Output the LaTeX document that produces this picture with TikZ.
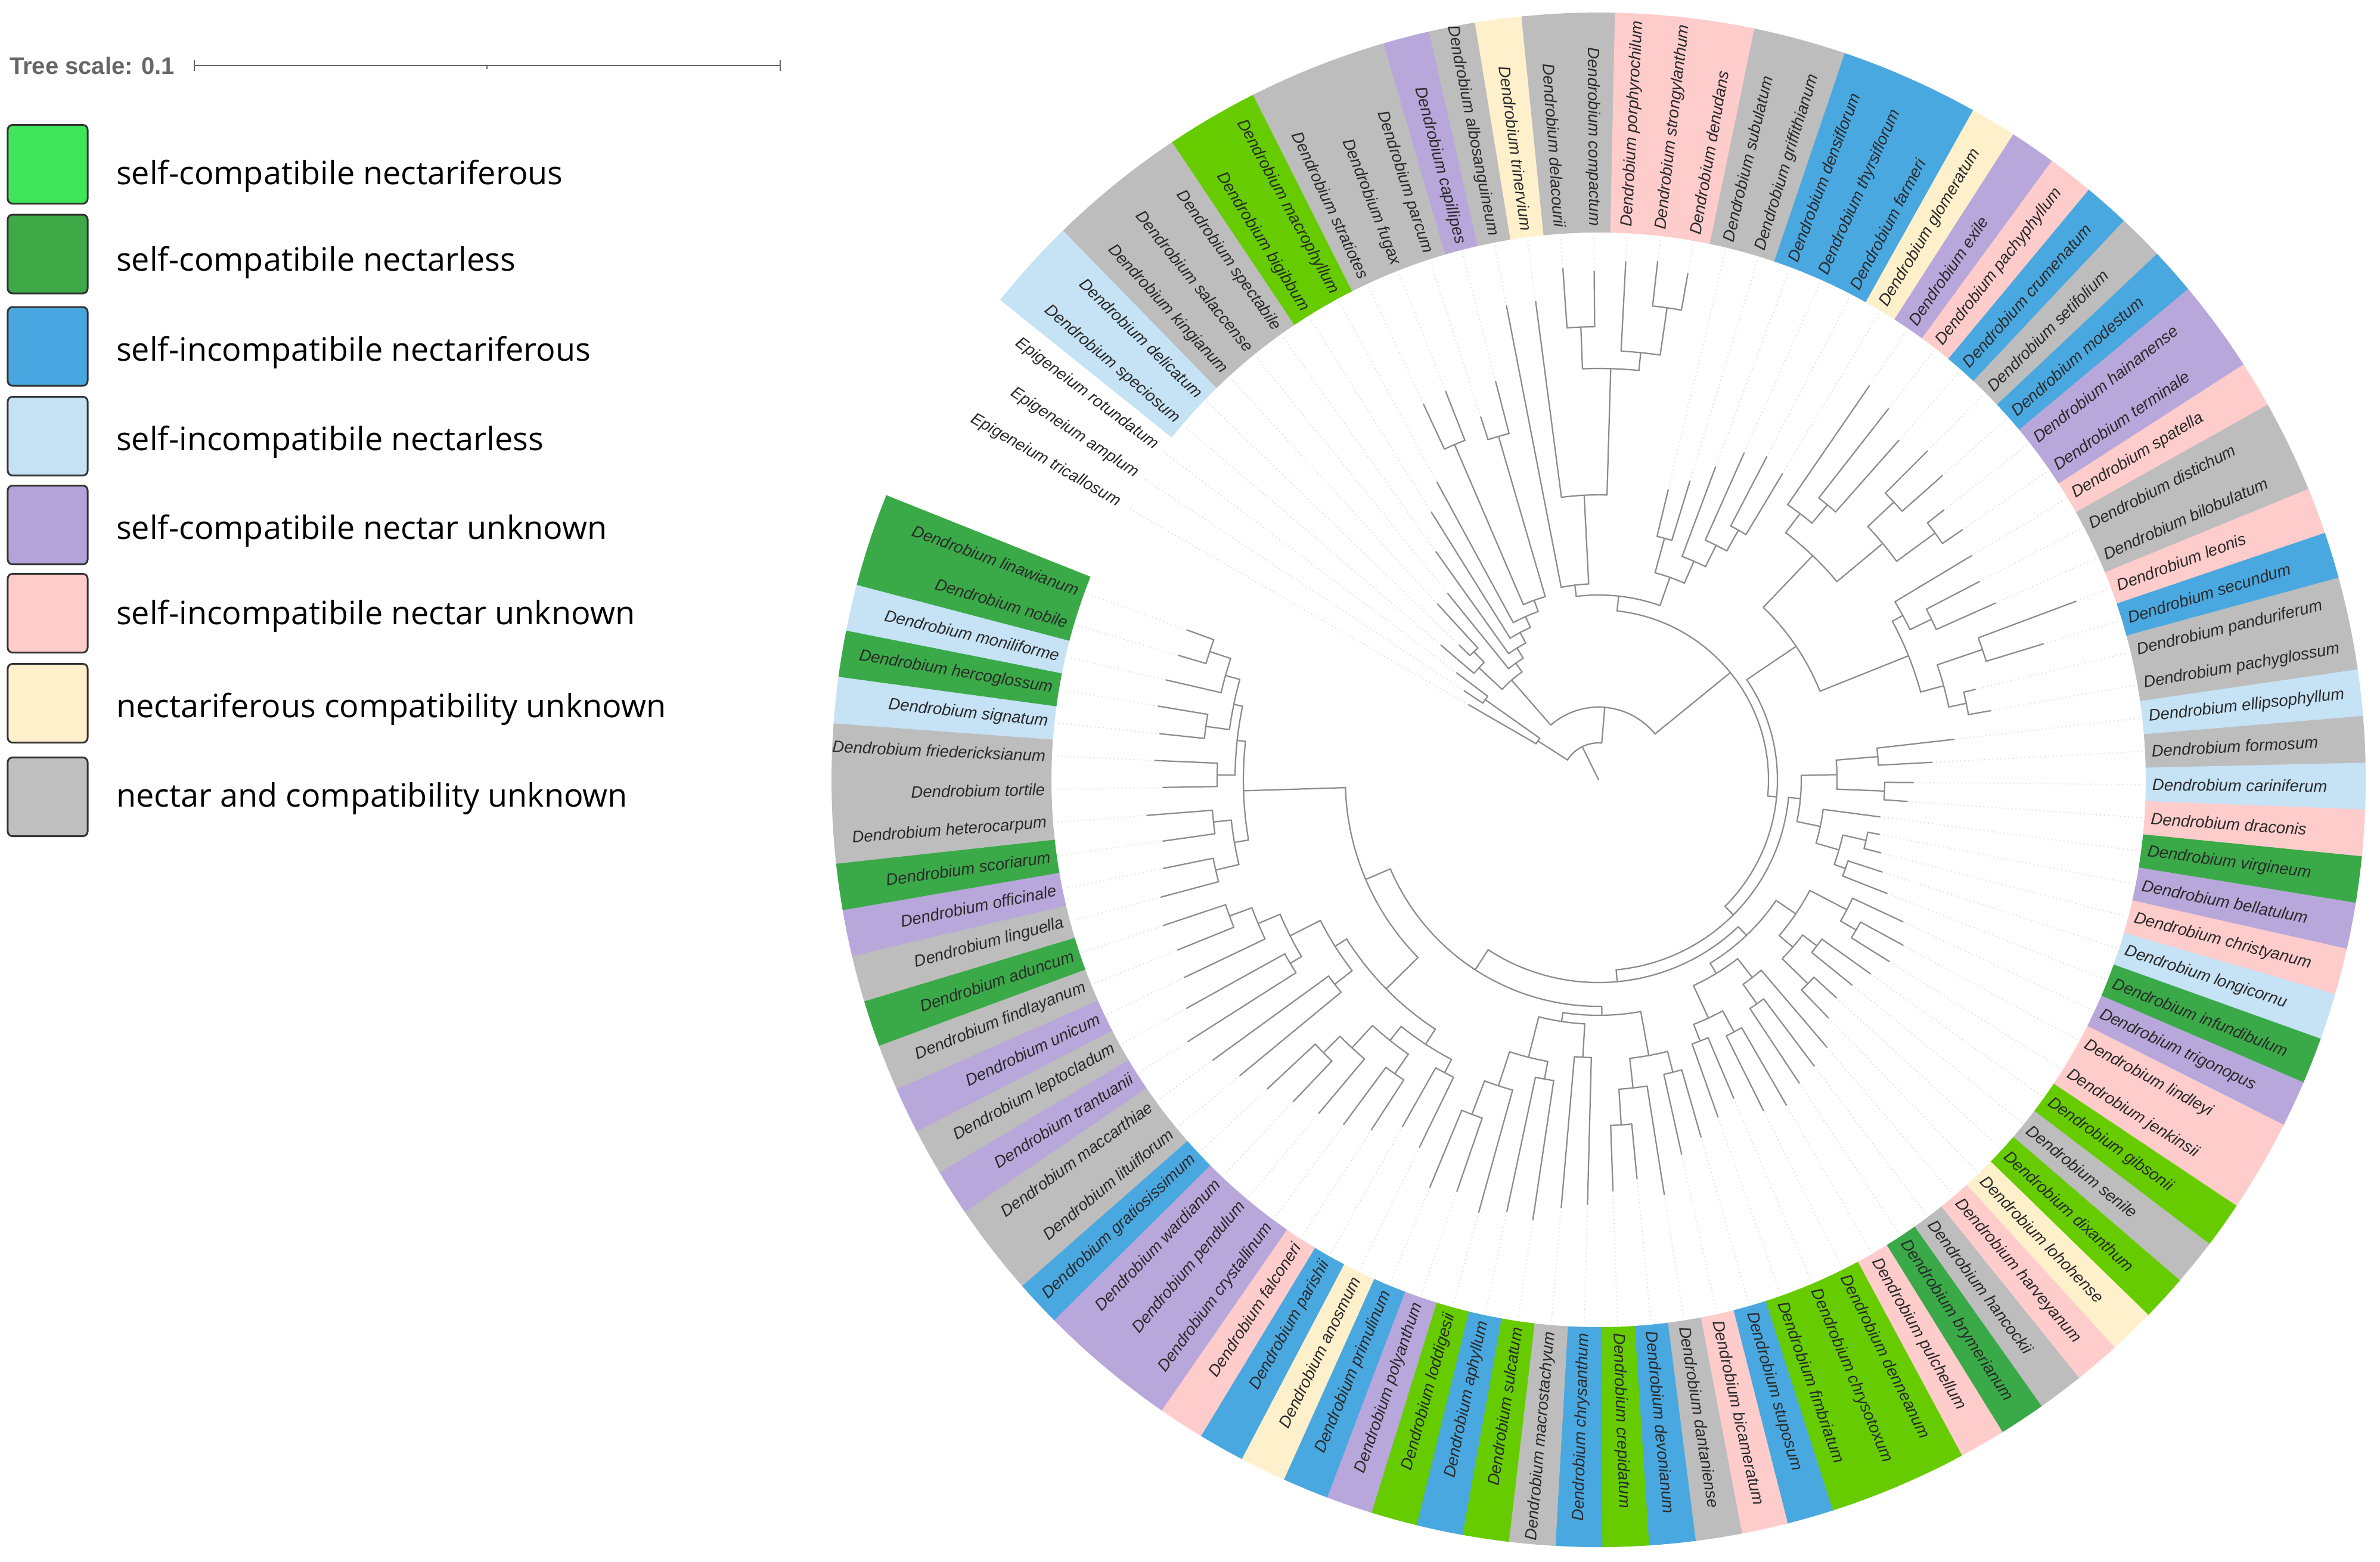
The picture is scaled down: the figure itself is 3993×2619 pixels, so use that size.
\documentclass[tikz,border=0pt]{standalone}
\usepackage{fontspec}
\setmainfont{Liberation Sans}
\newfontfamily\labfont{Liberation Sans}
\newfontfamily\legfont{Open Sans}
\definecolor{cL}{HTML}{66CC00}
\definecolor{cDG}{HTML}{3AAA48}
\definecolor{cB}{HTML}{4AA8E0}
\definecolor{cLB}{HTML}{C6E2F5}
\definecolor{cP}{HTML}{B8A7DA}
\definecolor{cK}{HTML}{FFCCCC}
\definecolor{cY}{HTML}{FFF0CC}
\definecolor{cG}{HTML}{BDBDBD}
\definecolor{lg1}{HTML}{3FE65A}
\definecolor{lg2}{HTML}{3DA947}
\definecolor{lg3}{HTML}{48A7E0}
\definecolor{lg4}{HTML}{C5E1F4}
\definecolor{lg5}{HTML}{B4A3D8}
\definecolor{lg6}{HTML}{FFCCCC}
\definecolor{lg7}{HTML}{FFF0CC}
\definecolor{lg8}{HTML}{BFBFBF}
\definecolor{treegray}{HTML}{8C8C8C}
\definecolor{guidegray}{HTML}{DDDDDD}
\definecolor{labtext}{HTML}{2A2A2A}
\definecolor{legborder}{HTML}{333333}
\definecolor{scalegray}{HTML}{666666}
\tikzset{
  branch/.style={draw=treegray, line width=0.45pt, line cap=round, line join=round},
  guide/.style={draw=guidegray, line width=0.35pt, densely dotted},
  lab/.style={font=\labfont\itshape\fontsize{5.5}{6}\selectfont, text=labtext, inner sep=0pt},
  legbox/.style={draw=legborder, line width=0.6pt, rounded corners=1.6pt, minimum width=26.8pt, minimum height=26.4pt, inner sep=0pt},
  legtext/.style={font=\legfont\fontsize{10.8}{13}\selectfont, text=black, anchor=base west, inner sep=0pt},
  scalebar/.style={draw=scalegray, line width=0.5pt},
}
\newcommand\trleaf[3]{%
  \pgfmathsetmacro\tmpang{150-3.5*(#2-1)}%
  \expandafter\xdef\csname ta@#1\endcsname{\tmpang}%
  \coordinate (n-#1) at (\tmpang:#3);%
  \coordinate (d-#1) at (\tmpang:914);%
  \draw[guide] (n-#1) -- (d-#1);%
}
\newcommand\trnode[4]{%
  \edef\trA{\csname ta@#3\endcsname}%
  \edef\trB{\csname ta@#4\endcsname}%
  \pgfmathsetmacro\tmpang{(\trA+\trB)/2}%
  \expandafter\xdef\csname ta@#1\endcsname{\tmpang}%
  \coordinate (n-#1) at (\tmpang:#2);%
  \coordinate (e-#3) at (\trA:#2);%
  \coordinate (e-#4) at (\trB:#2);%
  \draw[branch] (e-#3) -- (n-#3);%
  \draw[branch] (e-#4) -- (n-#4);%
  \draw[branch] (e-#3) arc[start angle=\trA, end angle=\trB, radius=#2];%
}
\begin{document}
\begin{tikzpicture}[x=0.2pt,y=0.2pt]
\fill[white] (0,0) rectangle (3993,-2619);
\useasboundingbox (0,0) rectangle (3993,-2619);
% ---------- scale ----------
\node[font=\bfseries\fontsize{8}{9}\selectfont, text=scalegray, anchor=base west, inner sep=0pt] (ts) at (15,-124) {Tree scale: 0.1};
\coordinate (sb1) at (326,-110);
\coordinate (sb2) at (1309,-110);
\coordinate (sbm) at (817,-110);
\draw[scalebar] (sb1) -- (sb2);
\draw[scalebar] (sb1) ++(0,9) -- ++(0,-18);
\draw[scalebar] (sb2) ++(0,9) -- ++(0,-18);
\draw[scalebar] (sbm) -- ++(0,-6);
% ---------- legend ----------
\foreach \k/\yc/\yb/\c/\t in {
 1/275.5/309/lg1/self-compatibile nectariferous,
 2/426/454/lg2/self-compatibile nectarless,
 3/581/605/lg3/self-incompatibile nectariferous,
 4/731.5/755/lg4/self-incompatibile nectarless,
 5/880.5/904/lg5/self-compatibile nectar unknown,
 6/1028.5/1047/lg6/self-incompatibile nectar unknown,
 7/1179.5/1203/lg7/nectariferous compatibility unknown,
 8/1336.5/1353/lg8/nectar and compatibility unknown}{
  \node[legbox, fill=\c] (sw\k) at (80,-\yc) {};
  \node[legtext] (lt\k) at (194,-\yb) {\t};
}
% ---------- circular tree ----------
\begin{scope}[shift={(2682,-1308)}]
\def\nonestr{none}
\foreach \i/\gen/\sp/\col in {
1/Epigeneium/tricallosum/none,
2/Epigeneium/amplum/none,
3/Epigeneium/rotundatum/none,
4/Dendrobium/speciosum/cLB,
5/Dendrobium/delicatum/cLB,
6/Dendrobium/kingianum/cG,
7/Dendrobium/salaccense/cG,
8/Dendrobium/spectabile/cG,
9/Dendrobium/bigibbum/cL,
10/Dendrobium/macrophyllum/cL,
11/Dendrobium/stratiotes/cG,
12/Dendrobium/fugax/cG,
13/Dendrobium/parcum/cG,
14/Dendrobium/capillipes/cP,
15/Dendrobium/albosanguineum/cG,
16/Dendrobium/trinervium/cY,
17/Dendrobium/delacourii/cG,
18/Dendrobium/compactum/cG,
19/Dendrobium/porphyrochilum/cK,
20/Dendrobium/strongylanthum/cK,
21/Dendrobium/denudans/cK,
22/Dendrobium/subulatum/cG,
23/Dendrobium/griffithianum/cG,
24/Dendrobium/densiflorum/cB,
25/Dendrobium/thyrsiflorum/cB,
26/Dendrobium/farmeri/cB,
27/Dendrobium/glomeratum/cY,
28/Dendrobium/exile/cP,
29/Dendrobium/pachyphyllum/cK,
30/Dendrobium/crumenatum/cB,
31/Dendrobium/setifolium/cG,
32/Dendrobium/modestum/cB,
33/Dendrobium/hainanense/cP,
34/Dendrobium/terminale/cP,
35/Dendrobium/spatella/cK,
36/Dendrobium/distichum/cG,
37/Dendrobium/bilobulatum/cG,
38/Dendrobium/leonis/cK,
39/Dendrobium/secundum/cB,
40/Dendrobium/panduriferum/cG,
41/Dendrobium/pachyglossum/cG,
42/Dendrobium/ellipsophyllum/cLB,
43/Dendrobium/formosum/cG,
44/Dendrobium/cariniferum/cLB,
45/Dendrobium/draconis/cK,
46/Dendrobium/virgineum/cDG,
47/Dendrobium/bellatulum/cP,
48/Dendrobium/christyanum/cK,
49/Dendrobium/longicornu/cLB,
50/Dendrobium/infundibulum/cDG,
51/Dendrobium/trigonopus/cP,
52/Dendrobium/lindleyi/cK,
53/Dendrobium/jenkinsii/cK,
54/Dendrobium/gibsonii/cL,
55/Dendrobium/senile/cG,
56/Dendrobium/dixanthum/cL,
57/Dendrobium/lohohense/cY,
58/Dendrobium/harveyanum/cK,
59/Dendrobium/hancockii/cG,
60/Dendrobium/brymerianum/cDG,
61/Dendrobium/pulchellum/cK,
62/Dendrobium/denneanum/cL,
63/Dendrobium/chrysotoxum/cL,
64/Dendrobium/fimbriatum/cL,
65/Dendrobium/stuposum/cB,
66/Dendrobium/bicameratum/cK,
67/Dendrobium/dantaniense/cG,
68/Dendrobium/devonianum/cB,
69/Dendrobium/crepidatum/cL,
70/Dendrobium/chrysanthum/cB,
71/Dendrobium/macrostachyum/cG,
72/Dendrobium/sulcatum/cL,
73/Dendrobium/aphyllum/cB,
74/Dendrobium/loddigesii/cL,
75/Dendrobium/polyanthum/cP,
76/Dendrobium/primulinum/cB,
77/Dendrobium/anosmum/cY,
78/Dendrobium/parishii/cB,
79/Dendrobium/falconeri/cK,
80/Dendrobium/crystallinum/cP,
81/Dendrobium/pendulum/cP,
82/Dendrobium/wardianum/cP,
83/Dendrobium/gratiosissimum/cB,
84/Dendrobium/lituiflorum/cG,
85/Dendrobium/maccarthiae/cG,
86/Dendrobium/trantuanii/cP,
87/Dendrobium/leptocladum/cG,
88/Dendrobium/unicum/cP,
89/Dendrobium/findlayanum/cG,
90/Dendrobium/aduncum/cDG,
91/Dendrobium/linguella/cG,
92/Dendrobium/officinale/cP,
93/Dendrobium/scoriarum/cDG,
94/Dendrobium/heterocarpum/cG,
95/Dendrobium/tortile/cG,
96/Dendrobium/friedericksianum/cG,
97/Dendrobium/signatum/cLB,
98/Dendrobium/hercoglossum/cDG,
99/Dendrobium/moniliforme/cLB,
100/Dendrobium/nobile/cDG,
101/Dendrobium/linawianum/cDG}{
  \pgfmathsetmacro\ang{150-3.5*(\i-1)}
  \pgfmathtruncatemacro\isleft{(\ang>90)||(\ang<-90)}
  \ifx\col\nonestr\else
    \fill[\col] (\ang-1.78:918) arc[start angle=\ang-1.78, end angle=\ang+1.78, radius=918]
      -- (\ang+1.78:1287) arc[start angle=\ang+1.78, end angle=\ang-1.78, radius=1287] -- cycle;
  \fi
  \ifnum\isleft=1
    \node[lab, rotate=\ang+180, anchor=east] (lab\i) at (\ang:928) {\gen\ \sp};
  \else
    \node[lab, rotate=\ang, anchor=west] (lab\i) at (\ang:928) {\gen\ \sp};
  \fi
}
% ---- Epigeneium ----
\trleaf{l1}{1}{252}
\trleaf{l2}{2}{270}
\trleaf{l3}{3}{298}
\trnode{E23}{233}{l2}{l3}
\trnode{Epi}{121}{l1}{E23}
% ---- A ----
\trleaf{l4}{4}{348}
\trleaf{l5}{5}{325}
\trleaf{l6}{6}{400}
\trnode{Ax2}{300}{l5}{l6}
\trnode{Ax}{275}{l4}{Ax2}
\trleaf{l7}{7}{402}
\trleaf{l8}{8}{470}
\trleaf{l9}{9}{529}
\trleaf{l10}{10}{568}
\trleaf{l11}{11}{695}
\trleaf{l12}{12}{700}
\trleaf{l13}{13}{640}
\trleaf{l14}{14}{690}
\trnode{As}{612}{l11}{l12}
\trnode{Ar}{600}{l13}{l14}
\trnode{Au}{320}{As}{Ar}
\trnode{Av}{300}{l10}{Au}
\trnode{Aw}{280}{l9}{Av}
\trnode{Az}{260}{l8}{Aw}
\trnode{Ay}{240}{l7}{Az}
\trnode{A}{222}{Ax}{Ay}
% ---- T ----
\trleaf{l15}{15}{810}
\trleaf{l16}{16}{809}
\trleaf{l17}{17}{860}
\trleaf{l18}{18}{853}
\trleaf{l19}{19}{870}
\trleaf{l20}{20}{875}
\trleaf{l21}{21}{862}
\trnode{T1d}{760}{l17}{l18}
\trnode{T1f}{800}{l20}{l21}
\trnode{T1e}{720}{l19}{T1f}
\trnode{T1c}{690}{T1d}{T1e}
\trnode{T1b}{478}{l16}{T1c}
\trnode{T1}{329}{l15}{T1b}
\trleaf{l22}{22}{500}
\trleaf{l23}{23}{524}
\trleaf{l24}{24}{560}
\trleaf{l25}{25}{600}
\trleaf{l26}{26}{611}
\trleaf{l27}{27}{599}
\trnode{T2a}{420}{l22}{l23}
\trnode{T2d}{480}{l26}{l27}
\trnode{T2c}{440}{l25}{T2d}
\trnode{T2b}{400}{l24}{T2c}
\trnode{T2}{360}{T2a}{T2b}
\trnode{T}{310}{T1}{T2}
% ---- UR ----
\trleaf{l28}{28}{802}
\trleaf{l29}{29}{790}
\trleaf{l30}{30}{760}
\trleaf{l31}{31}{780}
\trleaf{l32}{32}{770}
\trleaf{l33}{33}{735}
\trleaf{l34}{34}{740}
\trnode{U1c}{600}{l29}{l30}
\trnode{U1a}{560}{l28}{U1c}
\trnode{U1d}{680}{l31}{l32}
\trnode{U1e}{700}{l33}{l34}
\trnode{U1b}{620}{U1d}{U1e}
\trnode{U1}{520}{U1a}{U1b}
\trleaf{l35}{35}{730}
\trleaf{l36}{36}{720}
\trleaf{l37}{37}{729}
\trleaf{l38}{38}{855}
\trleaf{l39}{39}{780}
\trleaf{l40}{40}{650}
\trleaf{l41}{41}{668}
\trnode{U2c}{620}{l36}{l37}
\trnode{U2a}{580}{l35}{U2c}
\trnode{U2d}{680}{l38}{l39}
\trnode{U2e}{630}{l40}{l41}
\trnode{U2b}{600}{U2d}{U2e}
\trnode{U2}{560}{U2a}{U2b}
\trnode{UR}{400}{U1}{U2}
% ---- Rt ----
\trleaf{l42}{42}{600}
\trleaf{l43}{43}{560}
\trleaf{l44}{44}{528}
\trleaf{l45}{45}{519}
\trleaf{l46}{46}{476}
\trleaf{l47}{47}{480}
\trleaf{l48}{48}{489}
\trleaf{l49}{49}{500}
\trleaf{l50}{50}{520}
\trnode{Rt1a}{470}{l42}{l43}
\trnode{Rt1b}{480}{l44}{l45}
\trnode{Rt1}{400}{Rt1a}{Rt1b}
\trnode{Rt2b}{460}{l47}{l48}
\trnode{Rt2c}{440}{l49}{l50}
\trnode{Rt2a}{420}{Rt2b}{Rt2c}
\trnode{Rt2}{380}{l46}{Rt2a}
\trnode{Rt}{340}{Rt1}{Rt2}
% ---- LR ----
\trleaf{l51}{51}{563}
\trleaf{l52}{52}{581}
\trleaf{l53}{53}{575}
\trleaf{l54}{54}{560}
\trleaf{l55}{55}{547}
\trleaf{l56}{56}{541}
\trleaf{l57}{57}{555}
\trnode{L1c}{500}{l52}{l53}
\trnode{L1a}{470}{l51}{L1c}
\trnode{L1d}{460}{l54}{l55}
\trnode{L1e}{490}{l56}{l57}
\trnode{L1b}{430}{L1d}{L1e}
\trnode{L1}{400}{L1a}{L1b}
\trleaf{l58}{58}{590}
\trleaf{l59}{59}{601}
\trleaf{l60}{60}{610}
\trleaf{l61}{61}{630}
\trleaf{l62}{62}{620}
\trleaf{l63}{63}{580}
\trleaf{l64}{64}{600}
\trnode{L2c}{460}{l59}{l60}
\trnode{L2a}{420}{l58}{L2c}
\trnode{L2d}{480}{l61}{l62}
\trnode{L2e}{470}{l63}{l64}
\trnode{L2b}{440}{L2d}{L2e}
\trnode{L2}{380}{L2a}{L2b}
\trnode{LR}{360}{L1}{L2}
% ---- Bt ----
\trleaf{l65}{65}{623}
\trleaf{l66}{66}{643}
\trleaf{l67}{67}{704}
\trleaf{l68}{68}{672}
\trleaf{l69}{69}{690}
\trnode{B1a}{506}{l65}{l66}
\trnode{B1c}{580}{l68}{l69}
\trnode{B1b}{520}{l67}{B1c}
\trnode{B1}{470}{B1a}{B1b}
\trleaf{l70}{70}{712}
\trleaf{l71}{71}{720}
\trleaf{l72}{72}{746}
\trleaf{l73}{73}{740}
\trleaf{l74}{74}{753}
\trleaf{l75}{75}{730}
\trleaf{l76}{76}{740}
\trnode{B2a}{466}{l70}{l71}
\trnode{B2c}{510}{l72}{l73}
\trnode{B2e}{600}{l75}{l76}
\trnode{B2d}{540}{l74}{B2e}
\trnode{B2b}{480}{B2c}{B2d}
\trnode{B2}{410}{B2a}{B2b}
\trnode{Bt}{395}{B1}{B2}
% ---- LL ----
\trleaf{l77}{77}{686}
\trleaf{l78}{78}{668}
\trleaf{l79}{79}{700}
\trleaf{l80}{80}{719}
\trleaf{l81}{81}{730}
\trleaf{l82}{82}{744}
\trleaf{l83}{83}{760}
\trnode{LL1a}{555}{l77}{l78}
\trnode{LL1c}{600}{l79}{l80}
\trnode{LL1e}{650}{l82}{l83}
\trnode{LL1d}{611}{l81}{LL1e}
\trnode{LL1b}{560}{LL1c}{LL1d}
\trnode{LL1}{530}{LL1a}{LL1b}
\trleaf{l84}{84}{780}
\trleaf{l85}{85}{800}
\trleaf{l86}{86}{817}
\trleaf{l87}{87}{790}
\trleaf{l88}{88}{770}
\trleaf{l89}{89}{762}
\trleaf{l90}{90}{770}
\trnode{LL2a}{560}{l84}{l85}
\trnode{LL2c}{602}{l86}{l87}
\trnode{LL2e}{660}{l89}{l90}
\trnode{LL2d}{620}{l88}{LL2e}
\trnode{LL2b}{580}{LL2c}{LL2d}
\trnode{LL2}{523}{LL2a}{LL2b}
\trnode{LL}{500}{LL1}{LL2}
% ---- Lf ----
\trleaf{l91}{91}{760}
\trleaf{l92}{92}{745}
\trleaf{l93}{93}{738}
\trleaf{l94}{94}{760}
\trleaf{l95}{95}{731}
\trleaf{l96}{96}{745}
\trleaf{l97}{97}{740}
\trleaf{l98}{98}{749}
\trleaf{l99}{99}{745}
\trleaf{l100}{100}{735}
\trleaf{l101}{101}{735}
\trnode{Lf1a}{660}{l91}{l92}
\trnode{Lf1b}{650}{l93}{l94}
\trnode{Lf1}{620}{Lf1a}{Lf1b}
\trnode{Lf2a}{640}{l95}{l96}
\trnode{Lf2c}{665}{l97}{l98}
\trnode{Lf2e}{687}{l100}{l101}
\trnode{Lf2d}{650}{l99}{Lf2e}
\trnode{Lf2b}{625}{Lf2c}{Lf2d}
\trnode{Lf2}{610}{Lf2a}{Lf2b}
\trnode{Lf}{596}{Lf1}{Lf2}
% ---- backbone ----
\trnode{R5}{425}{LL}{Lf}
\trnode{R4}{380}{Bt}{R5}
\trnode{R3}{340}{LR}{R4}
\trnode{R2}{320}{Rt}{R3}
\trnode{R}{300}{UR}{R2}
\trnode{B}{285}{T}{R}
\trnode{N2}{122}{A}{B}
\trnode{N1}{62}{Epi}{N2}
\coordinate (root) at (0,0);
\draw[branch] (root) -- (n-N1);
\end{scope}
\end{tikzpicture}
\end{document}
